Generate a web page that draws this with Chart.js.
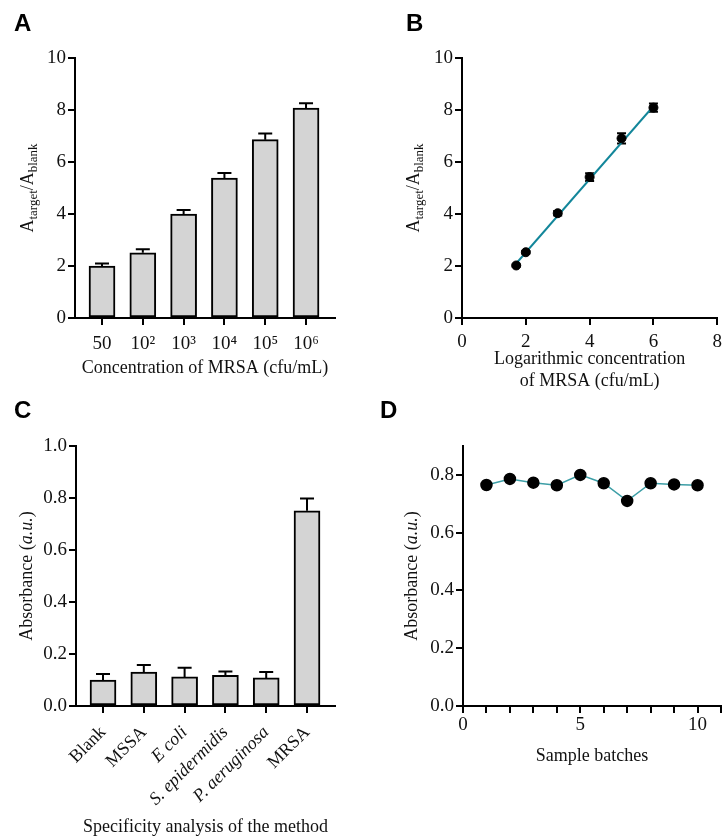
<!DOCTYPE html>
<html lang="en">
<head>
  <meta charset="UTF-8" />
  <title>MRSA detection figure</title>
  <script src="https://cdn.jsdelivr.net/npm/chart.js"></script>
  <style>
    body { margin: 0; background: #fff; }
    #fig { position: relative; width: 728px; height: 836px; }
    canvas { position: absolute; }
    .tag { position: absolute; font: bold 24px 'Liberation Sans', Arial, sans-serif; color: #000; }
  </style>
</head>
<body>
  <div id="fig">
    <canvas id="chartA" width="364" height="400" style="left:0;top:0"></canvas>
    <canvas id="chartB" width="364" height="400" style="left:364px;top:0"></canvas>
    <canvas id="chartC" width="364" height="436" style="left:0;top:400px"></canvas>
    <canvas id="chartD" width="364" height="436" style="left:364px;top:400px"></canvas>
    <div class="tag" style="left:14px;top:9px">A</div>
    <div class="tag" style="left:406px;top:9px">B</div>
    <div class="tag" style="left:14px;top:396px">C</div>
    <div class="tag" style="left:380px;top:396px">D</div>
  </div>

  <script>
    // A: signal ratio vs MRSA concentration
    const catsA = ['50', '10²', '10³', '10⁴', '10⁵', '10⁶'];
    const valsA = [2.0, 2.51, 4.0, 5.38, 6.86, 8.07];
    const errA = [0.1, 0.13, 0.15, 0.2, 0.24, 0.19];
    const yTicksA = [0, 2, 4, 6, 8, 10];

    // B: linear fit vs log concentration
    const logB = [1.7, 2, 3, 4, 5, 6];
    const valsB = [2.02, 2.53, 4.03, 5.42, 6.91, 8.09];
    const errB = [0.04, 0.05, 0.09, 0.15, 0.2, 0.16];
    const fitX = [1.7, 6.0];
    const fitY = [2.1, 8.15];
    const xTicksB = [0, 2, 4, 6, 8];
    const yTicksB = [0, 2, 4, 6, 8, 10];

    // C: specificity
    const catsC = ['Blank', 'MSSA', 'E coli', 'S. epidermidis', 'P. aeruginosa', 'MRSA'];
    const italicC = [false, false, true, true, true, false];
    const valsC = [0.10, 0.13, 0.112, 0.118, 0.108, 0.751];
    const errC = [0.023, 0.028, 0.035, 0.015, 0.023, 0.047];
    const yTicksC = [0, 0.2, 0.4, 0.6, 0.8, 1.0];

    // D: batch reproducibility
    const batchesD = [1, 2, 3, 4, 5, 6, 7, 8, 9, 10];
    const valsD = [0.765, 0.786, 0.773, 0.764, 0.800, 0.771, 0.710, 0.771, 0.767, 0.764];
    const xTicksD = [0, 1, 2, 3, 4, 5, 6, 7, 8, 9, 10, 11];
    const yTicksD = [0, 0.2, 0.4, 0.6, 0.8];

    const SERIF = "'Liberation Serif', 'Times New Roman', serif";
    const INK = '#111';

    function axis(min, max, ticks, size, fmt, vertical, pad) {
      return {
        type: 'linear',
        min: min,
        max: max,
        offset: false,
        afterBuildTicks: s => { s.ticks = ticks.map(v => ({ value: v })); },
        afterFit: s => { if (vertical) s.width = size; else s.height = size; },
        border: { color: '#000', width: 2 },
        grid: { drawOnChartArea: false, offset: false, color: '#000', lineWidth: 2, tickLength: 7 },
        ticks: {
          color: INK, font: { family: SERIF, size: 19 }, padding: pad,
          autoSkip: false, minRotation: 0, maxRotation: 0, callback: fmt
        }
      };
    }

    // rich text: segments with optional subscript / italic
    function drawRich(ctx, segs, x, y, size, rotate) {
      const fontOf = s => (s.it ? 'italic ' : '') + (s.sub ? size * 0.72 : size) + 'px ' + SERIF;
      ctx.save();
      ctx.translate(x, y);
      if (rotate) ctx.rotate(-Math.PI / 2);
      let total = 0;
      segs.forEach(s => { ctx.font = fontOf(s); total += ctx.measureText(s.t).width; });
      let cx = -total / 2;
      ctx.fillStyle = INK;
      ctx.textBaseline = 'middle';
      ctx.textAlign = 'left';
      segs.forEach(s => {
        ctx.font = fontOf(s);
        ctx.fillText(s.t, cx, s.sub ? size * 0.3 : 0);
        cx += ctx.measureText(s.t).width;
      });
      ctx.restore();
    }

    function titles(cfg) {
      return {
        id: 'titles',
        afterDraw(chart) {
          const a = chart.chartArea;
          const ctx = chart.ctx;
          drawRich(ctx, cfg.y, a.left - cfg.yGap, (a.top + a.bottom) / 2, 18, true);
          cfg.x.forEach((line, i) => {
            drawRich(ctx, line, (a.left + a.right) / 2, a.bottom + cfg.xGap + i * 22, 18, false);
          });
        }
      };
    }

    // tick marks under the category positions of the bar panels
    const barTicks = {
      id: 'barTicks',
      afterDraw(chart) {
        const xs = chart.scales.x;
        const ctx = chart.ctx;
        const y0 = chart.chartArea.bottom;
        ctx.save();
        ctx.strokeStyle = '#000';
        ctx.lineWidth = 2;
        xs.ticks.forEach(t => {
          const px = Math.round(xs.getPixelForValue(t.value));
          ctx.beginPath();
          ctx.moveTo(px, y0);
          ctx.lineTo(px, y0 + 7);
          ctx.stroke();
        });
        ctx.restore();
      }
    };

    function errorBars(idx, err, capW, both) {
      return {
        id: 'errorBars',
        beforeDatasetsDraw(chart) {
          const meta = chart.getDatasetMeta(idx);
          const ys = chart.scales.y;
          const ctx = chart.ctx;
          const data = chart.data.datasets[idx].data;
          ctx.save();
          ctx.strokeStyle = '#000';
          ctx.lineWidth = 2;
          meta.data.forEach((el, i) => {
            const v = data[i].y;
            const top = ys.getPixelForValue(v + err[i]);
            const bot = ys.getPixelForValue(both ? v - err[i] : v);
            ctx.beginPath();
            ctx.moveTo(el.x, bot);
            ctx.lineTo(el.x, top);
            ctx.moveTo(el.x - capW / 2, top);
            ctx.lineTo(el.x + capW / 2, top);
            if (both) {
              ctx.moveTo(el.x - capW / 2, bot);
              ctx.lineTo(el.x + capW / 2, bot);
            }
            ctx.stroke();
          });
          ctx.restore();
        }
      };
    }

    const ratioTitle = [{ t: 'A' }, { t: 'target', sub: true }, { t: '/A' }, { t: 'blank', sub: true }];
    const absTitle = [{ t: 'Absorbance (' }, { t: 'a.u.', it: true }, { t: ')' }];

    const base = {
      responsive: false,
      animation: false,
      plugins: { legend: { display: false }, tooltip: { enabled: false } }
    };

    // Panel A
    new Chart(document.getElementById('chartA'), {
      type: 'bar',
      data: {
        datasets: [{
          data: catsA.map((c, i) => ({ x: i + 1, y: valsA[i] })),
          backgroundColor: '#d4d4d4',
          borderColor: '#000',
          borderWidth: 2,
          borderSkipped: false,
          barThickness: 26
        }]
      },
      options: Object.assign({}, base, {
        layout: { padding: { left: 0, top: 58, right: 29, bottom: 0 } },
        scales: {
          x: axis(0.338, 6.71, [1, 2, 3, 4, 5, 6], 82, v => catsA[v - 1], false, 8),
          y: axis(0, 10, yTicksA, 75, v => String(v), true, 2)
        }
      }),
      plugins: [barTicks, errorBars(0, errA, 14, false), titles({
        y: ratioTitle, yGap: 47,
        x: [[{ t: 'Concentration of MRSA (cfu/mL)' }]], xGap: 50
      })]
    });

    // Panel B
    new Chart(document.getElementById('chartB'), {
      type: 'scatter',
      data: {
        datasets: [{
          data: logB.map((x, i) => ({ x: x, y: valsB[i] })),
          pointRadius: 4.5,
          pointBackgroundColor: '#000',
          pointBorderColor: '#000',
          showLine: false
        }, {
          data: fitX.map((x, i) => ({ x: x, y: fitY[i] })),
          showLine: true,
          borderColor: '#12869a',
          borderWidth: 2.2,
          pointRadius: 0
        }]
      },
      options: Object.assign({}, base, {
        layout: { padding: { left: 0, top: 58, right: 6, bottom: 0 } },
        scales: {
          x: axis(0, 8, xTicksB, 82, v => String(v), false, 6),
          y: axis(0, 10, yTicksB, 98, v => String(v), true, 2)
        }
      }),
      plugins: [errorBars(0, errB, 9, true), titles({
        y: ratioTitle, yGap: 48,
        x: [[{ t: 'Logarithmic concentration' }], [{ t: 'of MRSA (cfu/mL)' }]], xGap: 41
      })]
    });

    // Panel C
    const cAxis = axis(0.338, 6.686, [1, 2, 3, 4, 5, 6], 130, v => catsC[v - 1], false, 9);
    cAxis.ticks.minRotation = 45;
    cAxis.ticks.maxRotation = 45;
    cAxis.ticks.font = c => ({
      family: SERIF, size: 18,
      style: (c.tick && italicC[c.tick.value - 1]) ? 'italic' : 'normal'
    });
    new Chart(document.getElementById('chartC'), {
      type: 'bar',
      data: {
        datasets: [{
          data: catsC.map((c, i) => ({ x: i + 1, y: valsC[i] })),
          backgroundColor: '#d4d4d4',
          borderColor: '#000',
          borderWidth: 2,
          borderSkipped: false,
          barThickness: 26
        }]
      },
      options: Object.assign({}, base, {
        layout: { padding: { left: 0, top: 46, right: 29, bottom: 0 } },
        scales: {
          x: cAxis,
          y: axis(0, 1.0, yTicksC, 76, v => v.toFixed(1), true, 2)
        }
      }),
      plugins: [barTicks, errorBars(0, errC, 14, false), titles({
        y: absTitle, yGap: 49,
        x: [[{ t: 'Specificity analysis of the method' }]], xGap: 121
      })]
    });

    // Panel D
    new Chart(document.getElementById('chartD'), {
      type: 'scatter',
      data: {
        datasets: [{
          data: batchesD.map((b, i) => ({ x: b, y: valsD[i] })),
          showLine: true,
          borderColor: '#3c9ea6',
          borderWidth: 1.5,
          pointRadius: 5.5,
          pointBackgroundColor: '#000',
          pointBorderColor: '#000'
        }]
      },
      options: Object.assign({}, base, {
        layout: { padding: { left: 0, top: 46, right: 6, bottom: 0 } },
        scales: {
          x: axis(0, 11, xTicksD, 130, v => (v % 5 === 0 ? String(v) : ''), false, 1),
          y: axis(0, 0.9, yTicksD, 99, v => v.toFixed(1), true, 2)
        }
      }),
      plugins: [titles({
        y: absTitle, yGap: 51,
        x: [[{ t: 'Sample batches' }]], xGap: 50
      })]
    });
  </script>
</body>
</html>
